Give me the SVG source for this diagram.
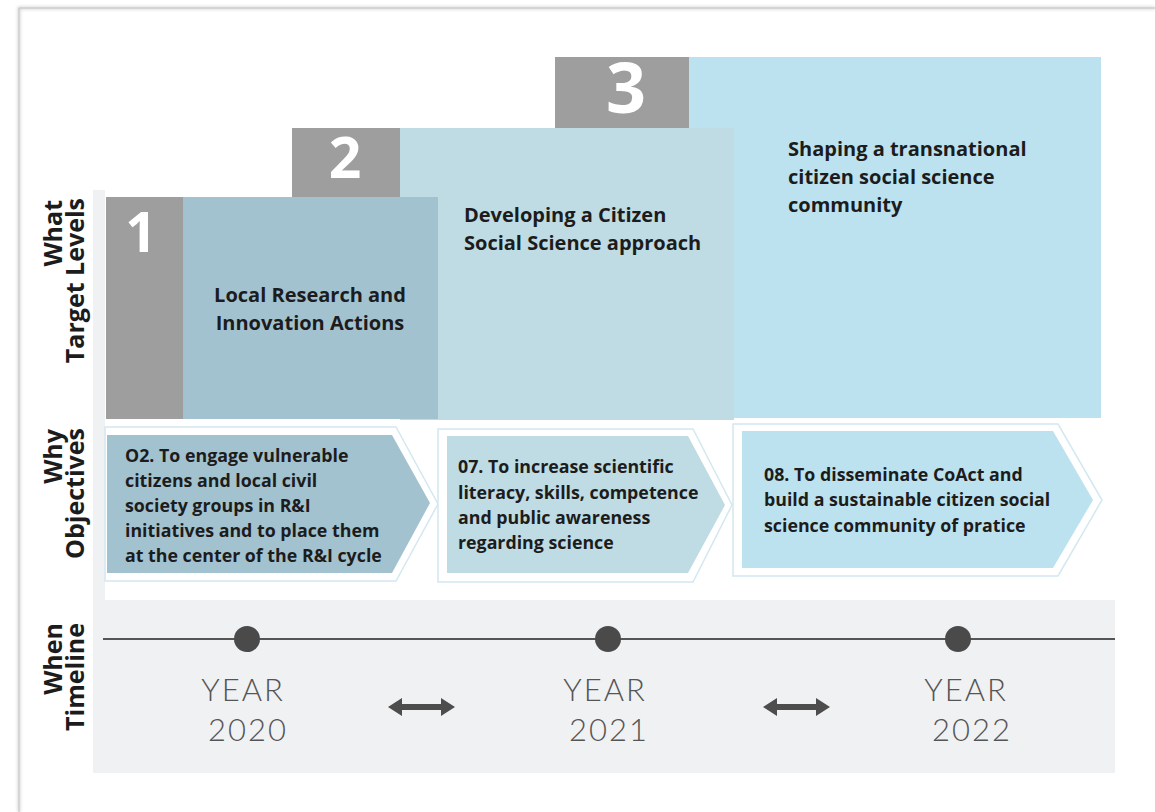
<svg xmlns="http://www.w3.org/2000/svg" width="1155" height="812" viewBox="0 0 1155 812">
<style>
.lbl{font-family:"Open Sans","Liberation Sans",sans-serif;font-weight:700;fill:#1c1c1c}
.row{font-size:25px}
.tier{font-size:20px}
.obj{font-size:17.8px}
.num{font-family:"Open Sans","Liberation Sans",sans-serif;font-weight:700;fill:#ffffff;text-anchor:middle}
.yr{font-family:Lato,"Open Sans","Liberation Sans",sans-serif;font-weight:300;font-size:31px;fill:#555555;text-anchor:middle;letter-spacing:2px}
.gray{fill:#9e9e9e}
.outline{fill:#ffffff;stroke:#d3e8f0;stroke-width:1.5}
</style>
<defs>
<filter id="sh" x="-5%" y="-5%" width="110%" height="110%">
<feGaussianBlur stdDeviation="1.5"/>
</filter>
</defs>
<rect width="1155" height="812" fill="#ffffff"/>
<g id="page-frame">
<path d="M19,812 V8 H1155" fill="none" stroke="#d8d8d8" stroke-width="3" filter="url(#sh)"/>
<path d="M19,812 V8 H1155" fill="none" stroke="#c4c4c4" stroke-width="1"/>
</g>
<g id="background">
<rect x="93" y="190" width="12" height="583" fill="#f0f1f3"/>
<rect x="93" y="600" width="1022" height="173" fill="#f0f1f3"/>
</g>
<g id="row-labels">
<text class="lbl row" text-anchor="end" transform="translate(62,200) rotate(-90)">What</text>
<text class="lbl row" text-anchor="end" transform="translate(84,198) rotate(-90)">Target Levels</text>
<text class="lbl row" text-anchor="end" transform="translate(62,429) rotate(-90)">Why</text>
<text class="lbl row" text-anchor="end" transform="translate(84,428) rotate(-90)">Objectives</text>
<text class="lbl row" text-anchor="end" transform="translate(62,623) rotate(-90)">When</text>
<text class="lbl row" text-anchor="end" transform="translate(84,623) rotate(-90)">Timeline</text>
</g>
<g id="level-3">
<rect class="gray" x="555" y="57" width="134" height="71"/>
<rect x="689" y="57" width="412" height="361" fill="#bce2f0"/>
<text class="num" x="626" y="113" font-size="70">3</text>
<text class="lbl tier" x="788" y="156">Shaping a transnational</text>
<text class="lbl tier" x="788" y="184">citizen social science</text>
<text class="lbl tier" x="788" y="212">community</text>
</g>
<g id="level-2">
<rect class="gray" x="292" y="128" width="108" height="69"/>
<rect x="400" y="128" width="334" height="292" fill="#bfdbe3"/>
<text class="num" x="345" y="178" font-size="57">2</text>
<text class="lbl tier" x="464" y="222">Developing a Citizen</text>
<text class="lbl tier" x="464" y="250">Social Science approach</text>
</g>
<g id="level-1">
<rect class="gray" x="106" y="197" width="77" height="222"/>
<rect x="183" y="197" width="255" height="222" fill="#a3c2cf"/>
<text class="num" x="141" y="252" font-size="55">1</text>
<text class="lbl tier" x="310" y="302" text-anchor="middle">Local Research and</text>
<text class="lbl tier" x="310" y="330" text-anchor="middle">Innovation Actions</text>
</g>
<g id="objective-o2">
<polygon class="outline" points="105,427 396,427 438,504 396,581 105,581"/>
<polygon points="107,435 392,435 430,503 392,573 107,573" fill="#a3c2cf"/>
<text class="lbl obj" x="125" y="462">O2. To engage vulnerable</text>
<text class="lbl obj" x="125" y="487">citizens and local civil</text>
<text class="lbl obj" x="125" y="512">society groups in R&amp;I</text>
<text class="lbl obj" x="125" y="537">initiatives and to place them</text>
<text class="lbl obj" x="125" y="562">at the center of the R&amp;I cycle</text>
</g>
<g id="objective-07">
<polygon class="outline" points="438,429 693,429 732,505 693,582 438,582"/>
<polygon points="447,436 688,436 725,505 688,573 447,573" fill="#bfdbe3"/>
<text class="lbl obj" x="458" y="473">07. To increase scientific</text>
<text class="lbl obj" x="458" y="499">literacy, skills, competence</text>
<text class="lbl obj" x="458" y="524">and public awareness</text>
<text class="lbl obj" x="458" y="549">regarding science</text>
</g>
<g id="objective-08">
<polygon class="outline" points="733,424 1058,424 1102,500 1058,576 733,576"/>
<polygon points="742,431 1053,431 1093,500 1053,568 742,568" fill="#bce2f0"/>
<text class="lbl obj" x="764" y="481">08. To disseminate CoAct and</text>
<text class="lbl obj" x="764" y="506">build a sustainable citizen social</text>
<text class="lbl obj" x="764" y="532">science community of pratice</text>
</g>
<g id="connectors">
<line x1="103" y1="639" x2="1115" y2="639" stroke="#555555" stroke-width="2"/>
<path d="M388,707 L402,698 V704 H441 V698 L455,707 L441,716 V710 H402 V716 Z" fill="#4d4d4d"/>
<path d="M763,707 L777,698 V704 H816 V698 L830,707 L816,716 V710 H777 V716 Z" fill="#4d4d4d"/>
</g>
<g id="year-2020">
<circle cx="247" cy="639" r="13" fill="#4a4a4a"/>
<text class="yr" x="243" y="701">YEAR</text>
<text class="yr" x="248" y="741">2020</text>
</g>
<g id="year-2021">
<circle cx="608" cy="639" r="13" fill="#4a4a4a"/>
<text class="yr" x="605" y="701">YEAR</text>
<text class="yr" x="609" y="741">2021</text>
</g>
<g id="year-2022">
<circle cx="958" cy="639" r="13" fill="#4a4a4a"/>
<text class="yr" x="966" y="701">YEAR</text>
<text class="yr" x="972" y="741">2022</text>
</g>
</svg>
